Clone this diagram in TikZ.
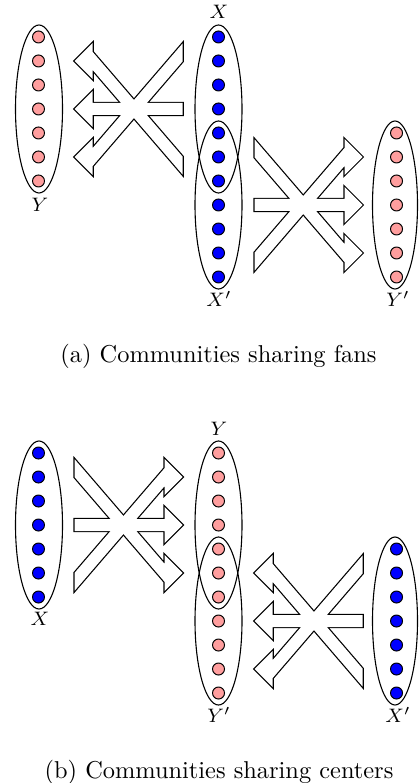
\documentclass[tikz,border=0pt]{standalone}
\usepackage{tikz}
\definecolor{pinkdot}{RGB}{255,158,158}
\definecolor{bluedot}{RGB}{0,0,255}
\tikzset{
  pinkd/.style={fill=pinkdot,draw=black,line width=0.4pt},
  blued/.style={fill=bluedot,draw=black,line width=0.4pt},
  comm/.style={draw=black,line width=0.45pt},
  lab/.style={font=\footnotesize,inner sep=0pt},
  captext/.style={font=\normalsize,anchor=base,inner sep=0pt},
}
\newcommand{\xcluster}[3]{%
  \begin{scope}[shift={(#1,#2)},xscale=#3]
    \draw[line width=1pt,line join=miter] (-54,-6) -- (36,-6) -- (36,-18) -- (54,0) -- (36,18) -- (36,6) -- (-54,6) -- cycle;
    \draw[line width=1pt,line join=miter] (-54,-65.7) -- (36,39) -- (36,30) -- (54,48) -- (36,66) -- (36,57) -- (-54,-47.7) -- cycle;
    \draw[line width=1pt,line join=miter] (-54,65.7) -- (36,-39) -- (36,-30) -- (54,-48) -- (36,-66) -- (36,-57) -- (-54,47.7) -- cycle;
    \fill[white] (-54,-6) -- (36,-6) -- (36,-18) -- (54,0) -- (36,18) -- (36,6) -- (-54,6) -- cycle;
    \fill[white] (-54,-65.7) -- (36,39) -- (36,30) -- (54,48) -- (36,66) -- (36,57) -- (-54,-47.7) -- cycle;
    \fill[white] (-54,65.7) -- (36,-39) -- (36,-30) -- (54,-48) -- (36,-66) -- (36,-57) -- (-54,47.7) -- cycle;
  \end{scope}}
\begin{document}
\begin{tikzpicture}[x=0.41pt,y=-0.41pt]
\useasboundingbox (0,0) rectangle (418,783);
% ---------- (a) ----------
\xcluster{128.7}{109}{-1}
\xcluster{308.5}{205}{1}
\draw[comm] (39,109) ellipse [x radius=23.5, y radius=84];
\draw[comm] (218.5,109) ellipse [x radius=23.5, y radius=84];
\draw[comm] (218.5,205) ellipse [x radius=23.5, y radius=84];
\draw[comm] (395,205) ellipse [x radius=22.5, y radius=84];
\foreach \k in {0,...,6} \draw[pinkd] (38.5,37+24*\k) circle [radius=6];
\foreach \k in {0,...,10} \draw[blued] (218.5,37+24*\k) circle [radius=6];
\foreach \k in {4,...,10} \draw[pinkd] (396.5,37+24*\k) circle [radius=6];
\node[lab] (ya) at (40,205) {$Y$};
\node[lab] (xa) at (219,12) {$X$};
\node[lab] (xpa) at (219,299) {$X'$};
\node[lab] (ypa) at (398,299) {$Y'$};
\node[captext] (capa) at (218.5,362) {(a) Communities sharing fans};
% ---------- (b) ----------
\xcluster{128.7}{525}{1}
\xcluster{308.7}{621}{-1}
\draw[comm] (39,525) ellipse [x radius=23.5, y radius=84];
\draw[comm] (218.5,525) ellipse [x radius=23.5, y radius=84];
\draw[comm] (218.5,621) ellipse [x radius=23.5, y radius=84];
\draw[comm] (395,621) ellipse [x radius=22.5, y radius=84];
\foreach \k in {0,...,6} \draw[blued] (38.5,453+24*\k) circle [radius=6];
\foreach \k in {0,...,10} \draw[pinkd] (218.5,453+24*\k) circle [radius=6];
\foreach \k in {4,...,10} \draw[blued] (396.5,453+24*\k) circle [radius=6];
\node[lab] (xb) at (40,619) {$X$};
\node[lab] (yb) at (219,429) {$Y$};
\node[lab] (ypb) at (219,715) {$Y'$};
\node[lab] (xpb) at (398,715) {$X'$};
\node[captext] (capb) at (219,778) {(b) Communities sharing centers};
\end{tikzpicture}
\end{document}
